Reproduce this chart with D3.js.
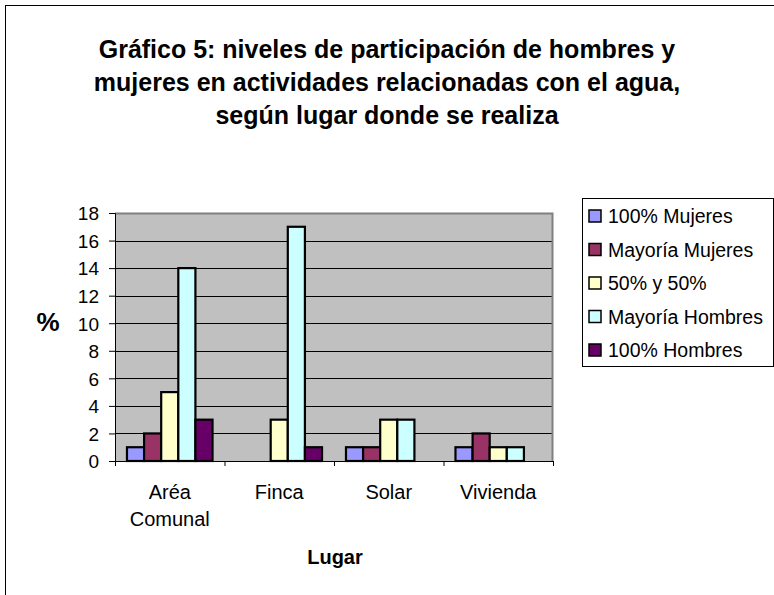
<!DOCTYPE html>
<html><head><meta charset="utf-8">
<script src="https://cdn.jsdelivr.net/npm/d3@7"></script>
<style>body{margin:0;background:#fff}svg{display:block}text{font-family:"Liberation Sans",Arial,sans-serif}</style>
</head><body><svg id="c" width="774" height="595"></svg>
<script>
const categories = [["Aréa","Comunal"],["Finca"],["Solar"],["Vivienda"]];
const seriesNames = ["100% Mujeres","Mayoría Mujeres","50% y 50%","Mayoría Hombres","100% Hombres"];
const seriesColors = ["#9999FF","#993366","#FFFFCC","#CCFFFF","#660066"];
const mujeres100 = [1,0,1,1];
const mayoriaMujeres = [2,0,1,2];
const mitad = [5,3,3,1];
const mayoriaHombres = [14,17,3,1];
const hombres100 = [3,1,0,0];
const yTicks = [0,2,4,6,8,10,12,14,16,18];
const titleLines = ["Gráfico 5: niveles de participación de hombres y","mujeres en actividades relacionadas con el agua,","según lugar donde se realiza"];

const series = [mujeres100,mayoriaMujeres,mitad,mayoriaHombres,hombres100];
const svg = d3.select("#c");
svg.append("rect").attr("x",5.5).attr("y",5.5).attr("width",800).attr("height",600).attr("fill","#fff").attr("stroke","#000");

const L=115,R=553,T=213,B=461;
const x = d3.scaleBand().domain(d3.range(categories.length)).range([L,R]).paddingInner(0).paddingOuter(0);
const sub = d3.scaleBand().domain(d3.range(series.length)).range([0,x.bandwidth()]).paddingInner(0).paddingOuter(0.7);
const y = d3.scaleLinear().domain([0,18]).range([B,T]);

svg.append("rect").attr("x",L).attr("y",T).attr("width",R-L).attr("height",B-T).attr("fill","#C0C0C0");
svg.append("g").selectAll("line").data(yTicks.slice(1)).join("line")
  .attr("x1",L).attr("x2",R).attr("y1",d=>Math.round(y(d))+0.5).attr("y2",d=>Math.round(y(d))+0.5).attr("stroke","#000");
svg.append("path").attr("d",`M${L},${T+0.5}H${R-0.5}V${B}`).attr("fill","none").attr("stroke","#808080").attr("stroke-width",2);

series.forEach((vals,si)=>{
  svg.append("g").selectAll("rect").data(vals.map((v,ci)=>({v,ci}))).join("rect")
    .filter(d=>d.v>0)
    .attr("x",d=>x(d.ci)+sub(si)).attr("width",sub.bandwidth())
    .attr("y",d=>y(d.v)).attr("height",d=>y(0)-y(d.v))
    .attr("fill",seriesColors[si]).attr("stroke","#000").attr("stroke-width",2.2);
});

const ya = svg.append("g").attr("transform",`translate(${L},0)`)
  .call(d3.axisLeft(y).tickValues(yTicks).tickSize(6).tickPadding(10));
ya.select(".domain").attr("stroke","#000");
ya.selectAll("text").attr("font-size",19).attr("fill","#000").attr("dy","0.36em").style("font-family","Liberation Sans, Arial");

const xa = svg.append("g").attr("transform",`translate(0,${B})`)
  .call(d3.axisBottom(d3.scaleLinear().domain([0,4]).range([L,R])).tickValues([0,1,2,3,4]).tickSize(5).tickFormat(""));
xa.select(".domain").attr("stroke","#000");
categories.forEach((lines,i)=>{
  const t = svg.append("text").attr("x",x(i)+x.bandwidth()/2).attr("y",499).attr("text-anchor","middle").attr("font-size",20);
  lines.forEach((l,j)=>t.append("tspan").attr("x",x(i)+x.bandwidth()/2).attr("dy",j?27:0).text(l));
});

svg.append("text").attr("x",335).attr("y",564).attr("text-anchor","middle").attr("font-size",20).attr("font-weight","bold").text("Lugar");
svg.append("text").attr("x",48).attr("y",331).attr("text-anchor","middle").attr("font-size",26).attr("font-weight","bold").text("%");

titleLines.forEach((l,i)=>svg.append("text").attr("x",387).attr("y",[58,91,124][i]).attr("text-anchor","middle")
  .attr("font-size",25).attr("font-weight","bold").text(l));

const lg = svg.append("g");
lg.append("rect").attr("x",582.5).attr("y",198.5).attr("width",191).attr("height",168).attr("fill","#fff").attr("stroke","#000");
seriesNames.forEach((n,i)=>{
  const cy = 216+i*33.5;
  lg.append("rect").attr("x",589).attr("y",cy-6).attr("width",12).attr("height",12).attr("fill",seriesColors[i]).attr("stroke","#000").attr("stroke-width",1.5);
  lg.append("text").attr("x",608).attr("y",cy+7).attr("font-size",19.5).text(n);
});
</script></body></html>
